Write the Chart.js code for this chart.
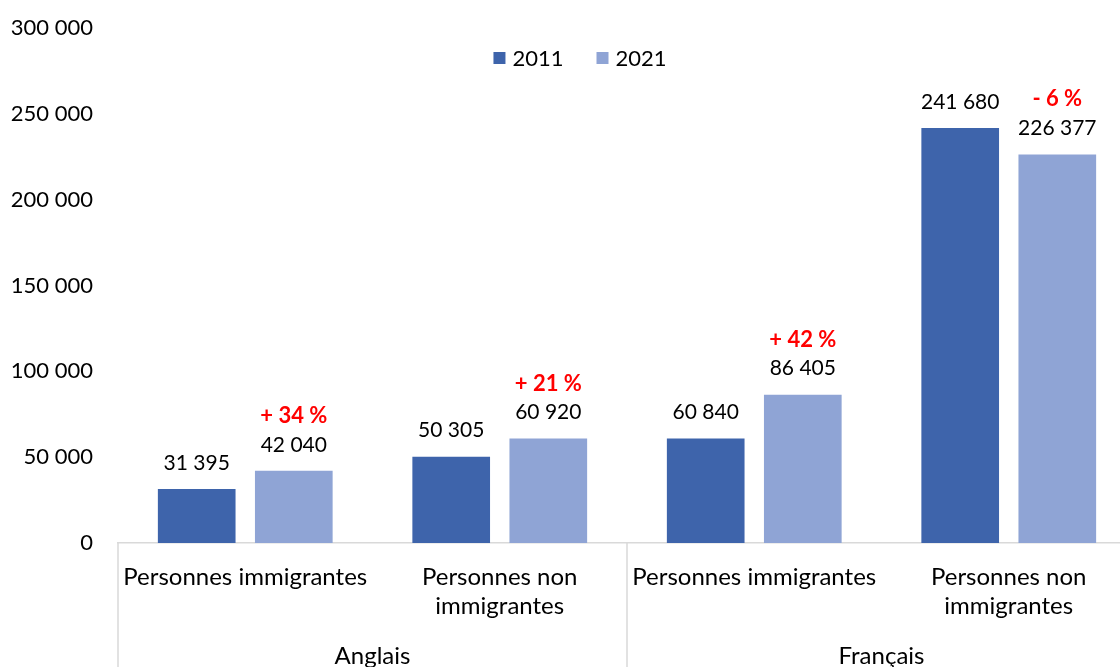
<!DOCTYPE html>
<html>
<head>
<meta charset="utf-8">
<script src="https://cdn.jsdelivr.net/npm/chart.js@4/dist/chart.umd.min.js"></script>
<style>
html,body{margin:0;padding:0;background:#fff;overflow:hidden;width:1120px;height:667px;}
#wrap{position:relative;width:1136px;height:667px;}
</style>
</head>
<body>
<div id="wrap"><canvas id="c"></canvas></div>
<script>
const categories = ['Personnes immigrantes', ['Personnes non', 'immigrantes'], 'Personnes immigrantes', ['Personnes non', 'immigrantes']];
const groups = ['Anglais', 'Français'];
const seriesNames = ['2011', '2021'];
const seriesColors = ['#3E64AB', '#8FA4D5'];
const values2011 = [31395, 50305, 60840, 241680];
const values2021 = [42040, 60920, 86405, 226377];
const changes = ['+ 34 %', '+ 21 %', '+ 42 %', '- 6 %'];
const yTicks = [0, 50000, 100000, 150000, 200000, 250000, 300000];

const FONT = 'Lato';
const fmt = v => String(v).replace(/\B(?=(\d{3})+(?!\d))/g, ' ');

const labelPlugin = {
  id: 'labels',
  afterDatasetsDraw(chart) {
    const ctx = chart.ctx;
    ctx.save();
    ctx.textAlign = 'center';
    ctx.textBaseline = 'middle';
    chart.data.datasets.forEach((ds, di) => {
      const meta = chart.getDatasetMeta(di);
      meta.data.forEach((bar, i) => {
        ctx.fillStyle = '#000';
        ctx.font = '21px ' + FONT;
        ctx.fillText(fmt(ds.data[i]), bar.x, bar.y - 26);
        if (di === 1) {
          ctx.fillStyle = '#FF0000';
          ctx.font = 'bold 22px ' + FONT;
          ctx.fillText(changes[i], bar.x, bar.y - 55);
        }
      });
    });
    ctx.restore();
  },
  afterDraw(chart) {
    const ctx = chart.ctx;
    const x = chart.scales.x;
    const area = chart.chartArea;
    const bottom = chart.height;
    const n = categories.length;
    const per = n / groups.length;
    const bounds = [];
    for (let g = 0; g <= groups.length; g++) {
      let px;
      if (g === 0) px = x.left;
      else if (g === groups.length) px = x.right;
      else px = (x.getPixelForValue(g * per - 1) + x.getPixelForValue(g * per)) / 2;
      bounds.push(px);
    }
    ctx.save();
    ctx.strokeStyle = '#D9D9D9';
    ctx.lineWidth = 1.5;
    bounds.forEach(px => {
      ctx.beginPath();
      ctx.moveTo(px, x.top);
      ctx.lineTo(px, bottom);
      ctx.stroke();
    });
    ctx.fillStyle = '#000';
    ctx.font = '24px ' + FONT;
    ctx.textAlign = 'center';
    ctx.textBaseline = 'middle';
    groups.forEach((gname, g) => {
      ctx.fillText(gname, (bounds[g] + bounds[g + 1]) / 2, x.top + 113);
    });

    // legend
    ctx.font = '22px ' + FONT;
    ctx.textAlign = 'left';
    const box = 12, gap = 7, spacing = 33;
    const dsets = chart.data.datasets;
    const widths = dsets.map(d => box + gap + ctx.measureText(d.label).width);
    const total = widths.reduce((a, b) => a + b, 0) + spacing * (dsets.length - 1);
    const cx = (area.left + area.right) / 2 - 47;
    const cy = area.top + 30;
    let lx = cx - total / 2;
    dsets.forEach((d, i) => {
      ctx.fillStyle = d.backgroundColor;
      ctx.fillRect(lx, cy - box / 2, box, box);
      ctx.fillStyle = '#000';
      ctx.fillText(d.label, lx + box + gap, cy + 1);
      lx += widths[i] + spacing;
    });
    ctx.restore();
  }
};

new Chart(document.getElementById('c'), {
  type: 'bar',
  data: {
    labels: categories,
    datasets: [
      { label: seriesNames[0], data: values2011, backgroundColor: seriesColors[0] },
      { label: seriesNames[1], data: values2021, backgroundColor: seriesColors[1] }
    ]
  },
  options: {
    responsive: true,
    maintainAspectRatio: false,
    animation: false,
    devicePixelRatio: 1,
    categoryPercentage: 0.763,
    barPercentage: 0.80,
    layout: { padding: { top: 28, right: 0, left: 0, bottom: 0 } },
    plugins: {
      legend: { display: false },
      tooltip: { enabled: false }
    },
    scales: {
      x: {
        grid: { display: false, drawTicks: false },
        border: { display: true, color: '#D9D9D9', width: 1.5 },
        ticks: {
          color: '#000',
          padding: 20,
          maxRotation: 0,
          autoSkip: false,
          font: { family: FONT, size: 24, lineHeight: 1.2 }
        },
        afterFit(s) { s.height = 124; }
      },
      y: {
        min: 0,
        max: 300000,
        grid: { display: false, drawTicks: false },
        border: { display: false },
        afterBuildTicks(s) { s.ticks = yTicks.map(v => ({ value: v })); },
        ticks: {
          color: '#000',
          padding: 25,
          font: { family: FONT, size: 22 },
          callback: v => fmt(v)
        },
        afterFit(s) { s.width = 118; s.paddingTop = 0; s.paddingBottom = 0; }
      }
    }
  },
  plugins: [labelPlugin]
});
</script>
</body>
</html>
